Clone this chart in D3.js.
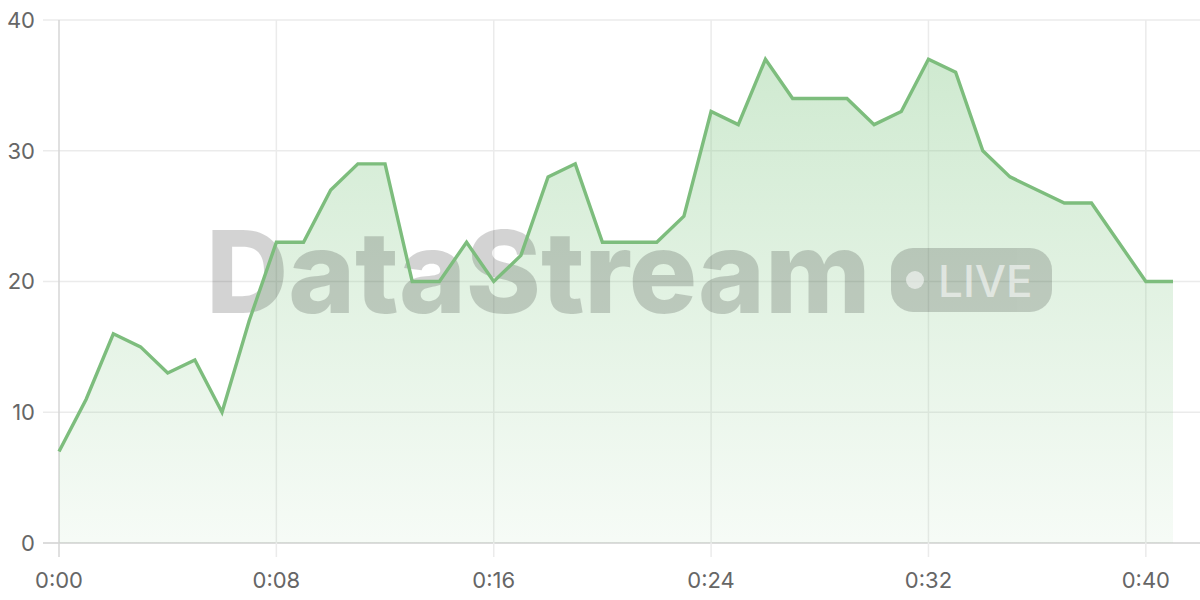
<!DOCTYPE html>
<html><head><meta charset="utf-8">
<script src="https://cdn.jsdelivr.net/npm/d3@7"></script>
<style>html,body{margin:0;padding:0;background:#fff;}svg{display:block;}</style>
</head><body>
<svg id="c" width="1200" height="600"></svg>
<script>
const minutes = d3.range(0, 42);
const values = [7,11,16,15,13,14,10,17,23,23,27,29,29,20,20,23,20,22,28,29,23,23,23,25,33,32,37,34,34,34,32,33,37,36,30,28,27,26,26,23,20,20];
const xTicks = [0,8,16,24,32,40];
const yTicks = [0,10,20,30,40];
const data = minutes.map((m,i)=>({m, v: values[i]}));

const svg = d3.select("#c");
const x = d3.scaleLinear().domain([0,41]).range([59,1173]);
const y = d3.scaleLinear().domain([0,40]).range([543,20]);
const font = "Inter, 'Noto Sans', sans-serif";

const defs = svg.append("defs");
const g = defs.append("linearGradient").attr("id","ag").attr("x1",0).attr("y1",0).attr("x2",0).attr("y2",1);
g.append("stop").attr("offset","0%").attr("stop-color","#81c784").attr("stop-opacity",0.38);
g.append("stop").attr("offset","100%").attr("stop-color","#81c784").attr("stop-opacity",0.07);

// horizontal grid
svg.append("g").selectAll("line").data(yTicks).join("line")
  .attr("x1",43).attr("x2",1200).attr("y1",d=>y(d)).attr("y2",d=>y(d))
  .attr("stroke", d=> d===0 ? "#d0d0d0" : "#ebebeb").attr("stroke-width",1.5);
// vertical grid
svg.append("g").selectAll("line").data(xTicks).join("line")
  .attr("x1",d=>x(d)).attr("x2",d=>x(d)).attr("y1",y(40)).attr("y2",557)
  .attr("stroke", d=> d===0 ? "#d6d6d6" : "#ebebeb").attr("stroke-width",1.5);

// area
svg.append("path").datum(data)
  .attr("d", d3.area().x(d=>x(d.m)).y0(y(0)).y1(d=>y(d.v)))
  .attr("fill","url(#ag)");

// watermark
const wm = svg.append("g").attr("opacity",0.17);
wm.append("text").attr("x",206).attr("y",313).text("DataStream")
  .attr("font-family",font).attr("font-weight",800).attr("font-size",114)
  .attr("letter-spacing",-0.2).attr("fill","#000");
wm.append("rect").attr("x",891).attr("y",248).attr("width",161).attr("height",64).attr("rx",22).attr("fill","#000");
svg.append("circle").attr("cx",915).attr("cy",280).attr("r",9).attr("fill","#fff").attr("opacity",0.55);
svg.append("text").attr("x",938).attr("y",297).text("LIVE")
  .attr("font-family",font).attr("font-weight",500).attr("font-size",44)
  .attr("fill","#fff").attr("opacity",0.55);

// line
svg.append("path").datum(data)
  .attr("d", d3.line().x(d=>x(d.m)).y(d=>y(d.v)))
  .attr("fill","none").attr("stroke","#7dbd7d").attr("stroke-width",3.4).attr("stroke-linejoin","miter");

// labels
svg.append("g").selectAll("text").data(yTicks).join("text")
  .attr("x",35).attr("y",d=>y(d)).attr("dy","0.36em").attr("text-anchor","end")
  .attr("font-family",font).attr("font-size",22).attr("fill","#666").text(d=>d);
const fmt = m => Math.floor(m/60)+":"+String(m%60).padStart(2,"0");
svg.append("g").selectAll("text").data(xTicks).join("text")
  .attr("x",d=>x(d)).attr("y",588).attr("text-anchor","middle")
  .attr("font-family",font).attr("font-size",22).attr("fill","#666").text(d=>fmt(d));
</script>
</body></html>
